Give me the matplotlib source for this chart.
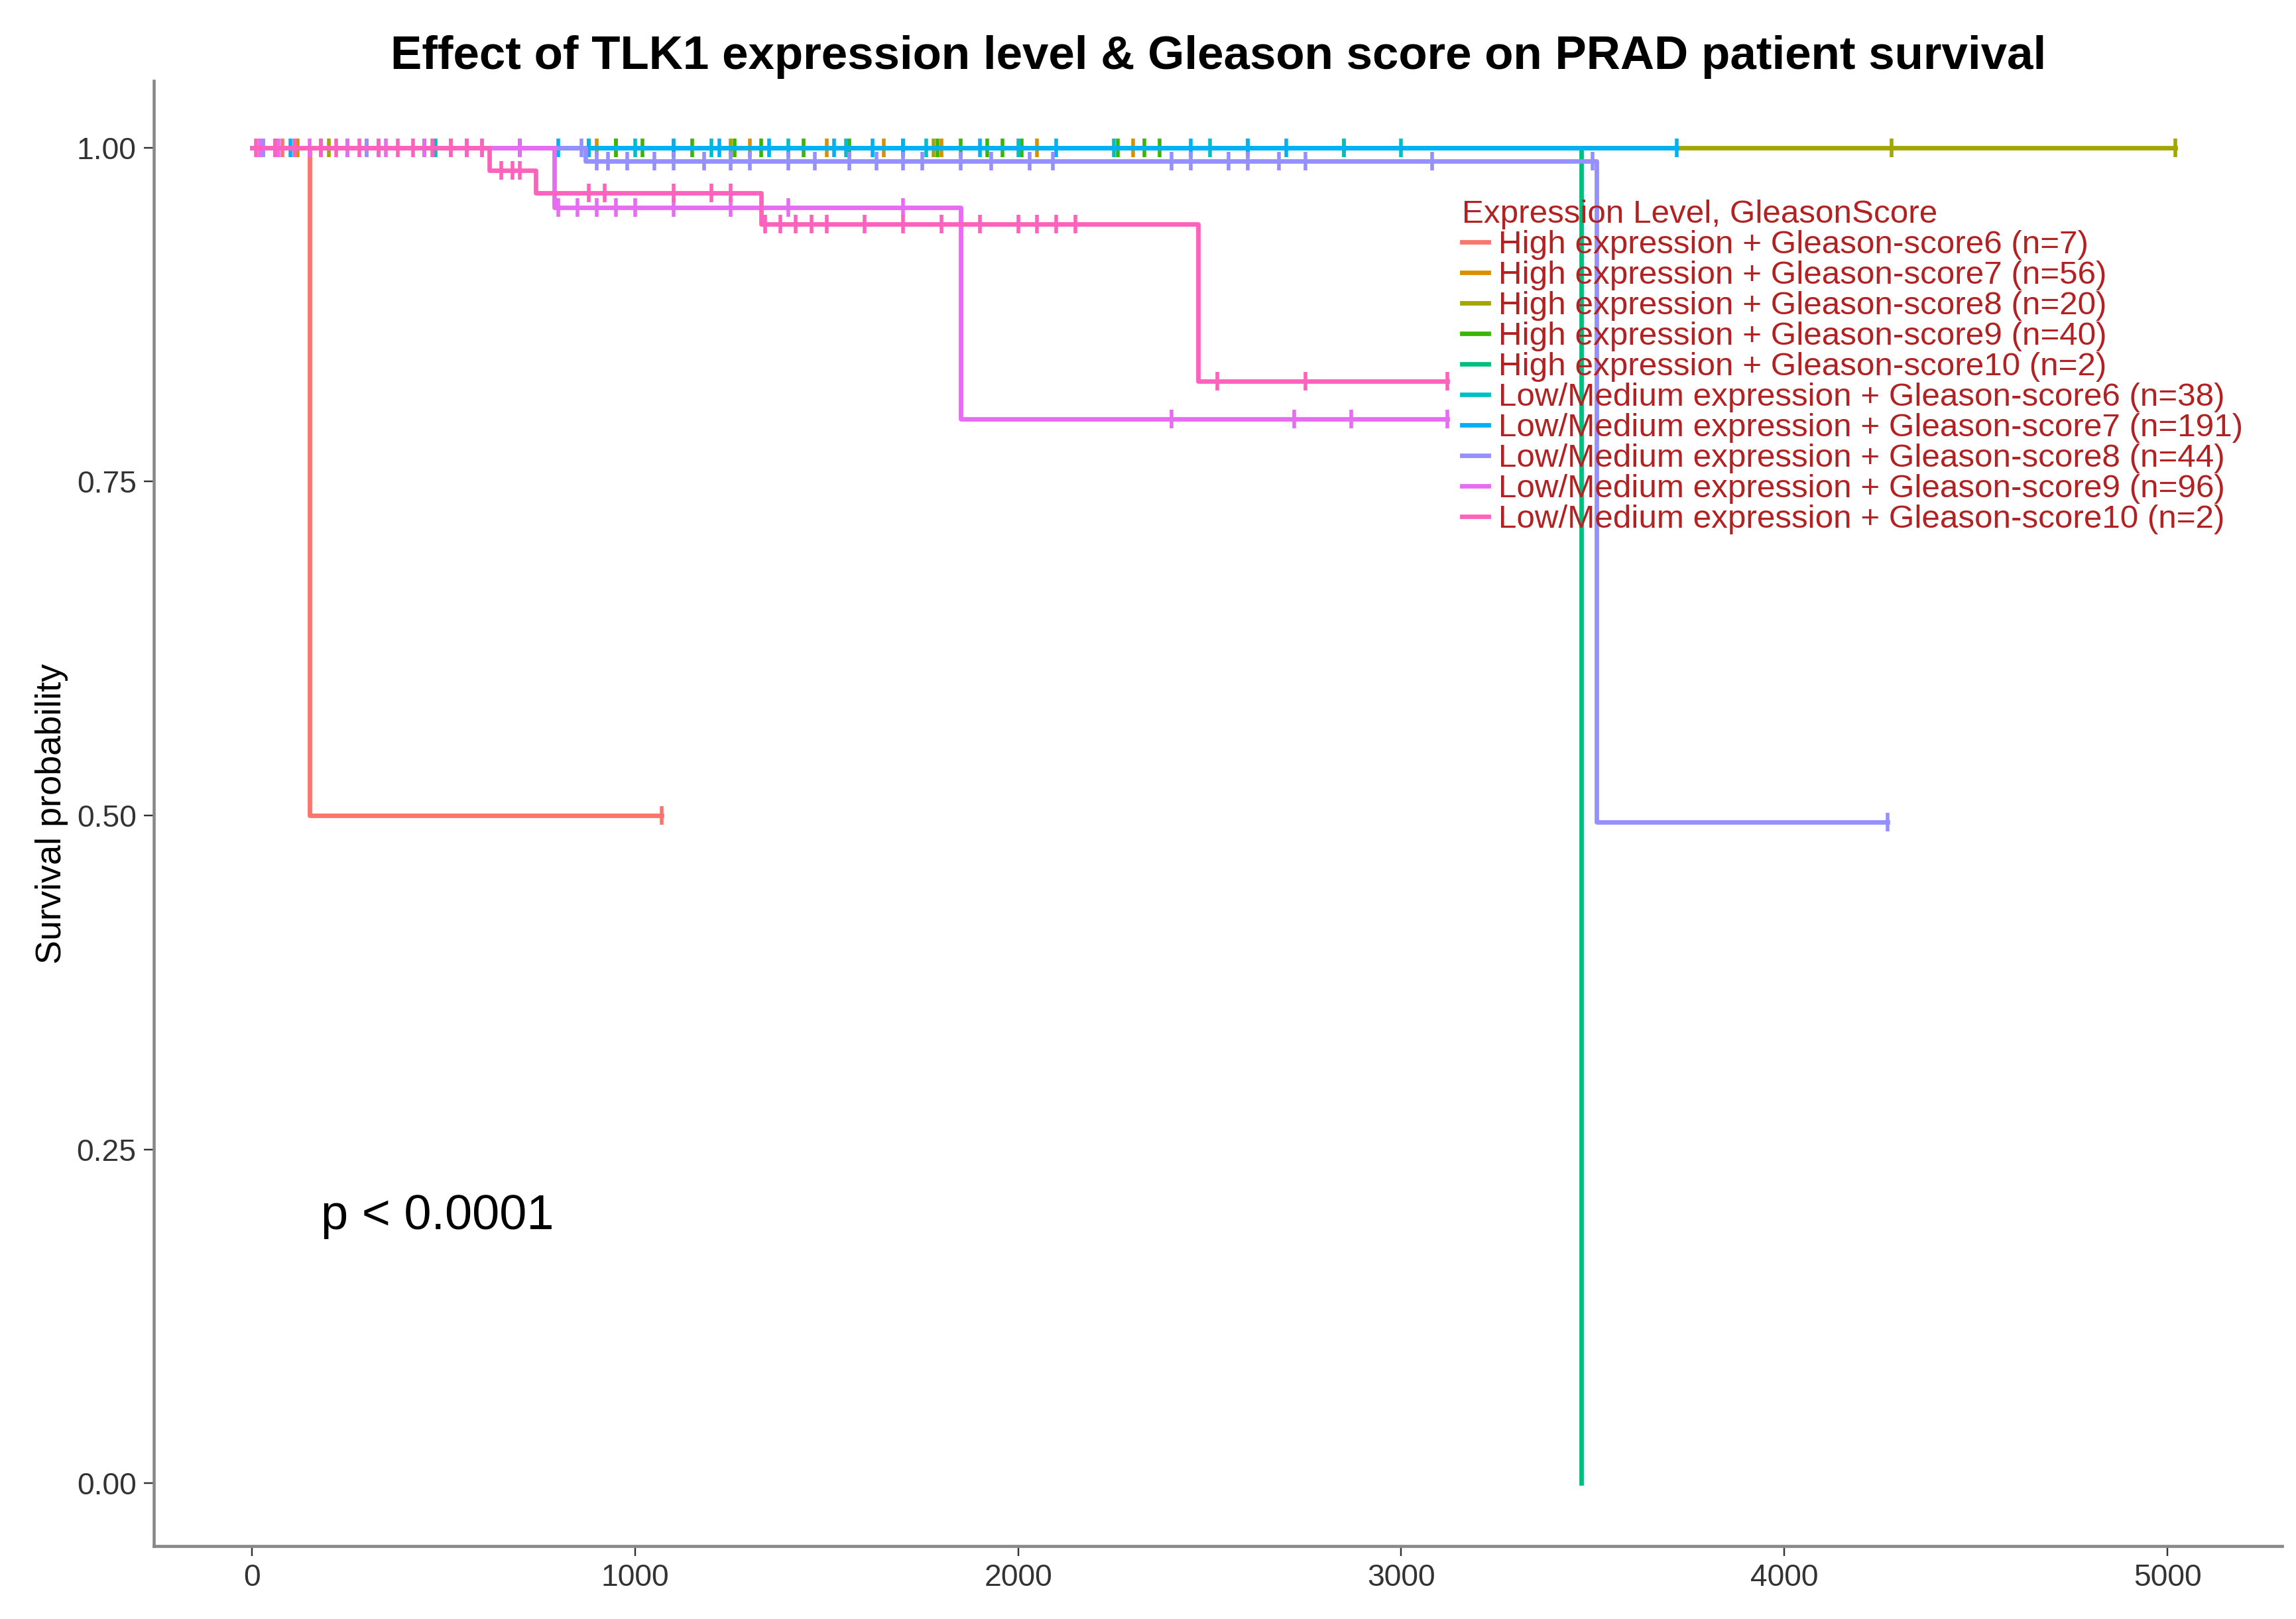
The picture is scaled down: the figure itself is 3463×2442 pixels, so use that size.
import numpy as np
import matplotlib.pyplot as plt

plt.rcParams['font.family'] = 'Liberation Sans'

# group labels and colours (ggplot hue palette)
labels = ['High expression + Gleason-score6 (n=7)',
          'High expression + Gleason-score7 (n=56)',
          'High expression + Gleason-score8 (n=20)',
          'High expression + Gleason-score9 (n=40)',
          'High expression + Gleason-score10 (n=2)',
          'Low/Medium expression + Gleason-score6 (n=38)',
          'Low/Medium expression + Gleason-score7 (n=191)',
          'Low/Medium expression + Gleason-score8 (n=44)',
          'Low/Medium expression + Gleason-score9 (n=96)',
          'Low/Medium expression + Gleason-score10 (n=2)']
colors = ['#F8766D', '#D89000', '#A3A500', '#39B600', '#00BF7D',
          '#00BFC4', '#00B0F6', '#9590FF', '#E76BF3', '#FF62BC']

# step times and survival after each step (first point = start)
step_t = [[0, 150, 1070],
          [0, 2850],
          [0, 5020],
          [0, 2400],
          [0, 3470],
          [0, 3000],
          [0, 3720],
          [0, 870, 3510, 4270],
          [0, 790, 1850, 3120],
          [0, 620, 740, 1330, 2470, 3120]]
step_s = [[1.0, 0.5, 0.5],
          [1.0, 1.0],
          [1.0, 1.0],
          [1.0, 1.0],
          [1.0, 0.0],
          [1.0, 1.0],
          [1.0, 1.0],
          [1.0, 0.99, 0.495, 0.495],
          [1.0, 0.955, 0.797, 0.797],
          [1.0, 0.983, 0.966, 0.943, 0.825, 0.825]]

# censor times
cens = [[30, 80, 1070],
        [120, 300, 520, 900, 1100, 1300, 1500, 1650, 1800, 2050, 2300, 2850],
        [200, 450, 950, 1250, 1780, 2850, 4280, 5020],
        [880, 950, 1020, 1150, 1260, 1330, 1440, 1560, 1700, 1790, 1850, 1920, 1960, 2010, 2260, 2330, 2370],
        [],
        [60, 250, 480, 700, 1000, 1200, 1400, 1550, 1760, 2000, 2250, 2500, 2600, 2850, 3000],
        [20, 100, 180, 330, 450, 560, 700, 800, 880, 1100, 1220, 1350, 1520, 1620, 1700, 1900, 2100, 2450, 2600, 2700, 3720],
        [30, 300, 600, 860, 900, 930, 980, 1050, 1100, 1180, 1250, 1300, 1400, 1470, 1560, 1630, 1700, 1750,
         1850, 1930, 2030, 2090, 2400, 2450, 2550, 2600, 2680, 2750, 3080, 3500, 4270],
        [20, 70, 150, 250, 350, 450, 560, 700, 800, 850, 900, 950, 1000, 1100, 1250, 1400, 1700, 2400, 2720, 2870, 3120],
        [10, 60, 110, 180, 220, 280, 330, 380, 420, 470, 520, 560, 600, 650, 680, 700, 880, 920, 1100,
         1200, 1250, 1340, 1380, 1420, 1460, 1500, 1600, 1700, 1800, 1900, 2000, 2050, 2100, 2150, 2520, 2750, 3120]]

fig, ax = plt.subplots(figsize=(15.6, 11), dpi=222)
fig.subplots_adjust(left=0.067, right=0.994, top=0.95, bottom=0.045)

for i in range(len(labels)):
    t = step_t[i]
    s = step_s[i]
    ax.step(t, s, where='post', color=colors[i], lw=2.2, label=labels[i])
    ct = np.array(cens[i], dtype=float)
    if len(ct):
        idx = np.searchsorted(t, ct, side='right') - 1
        cs = np.array(s)[idx]
        ax.plot(ct, cs, ls='none', marker='|', ms=9, mew=1.8, color=colors[i])

ax.set_xlim(-256, 5300)
ax.set_ylim(-0.047, 1.05)
ax.set_xticks([0, 1000, 2000, 3000, 4000, 5000])
ax.set_yticks([0, 0.25, 0.5, 0.75, 1.0])
ax.set_yticklabels(['0.00', '0.25', '0.50', '0.75', '1.00'])
ax.tick_params(labelsize=15, colors='#333333', length=5)
for sp in ['top', 'right']:
    ax.spines[sp].set_visible(False)
for sp in ['left', 'bottom']:
    ax.spines[sp].set_color('#888888')
    ax.spines[sp].set_linewidth(1.5)
ax.set_ylabel('Survival probability', fontsize=17.5)
ax.set_title('Effect of TLK1 expression level & Gleason score on PRAD patient survival',
             fontsize=23, fontweight='bold')
ax.text(180, 0.2, 'p < 0.0001', fontsize=24, va='center')

leg = ax.legend(loc='upper left', bbox_to_anchor=(0.607, 0.93), frameon=False,
                title='Expression Level, GleasonScore', fontsize=16, title_fontsize=16,
                handlelength=0.8, handletextpad=0.3, labelspacing=0.02, borderpad=0)
leg._legend_box.align = 'left'
leg.get_title().set_color('#B22222')
for txt in leg.get_texts():
    txt.set_color('#B22222')

plt.savefig('out.png')
